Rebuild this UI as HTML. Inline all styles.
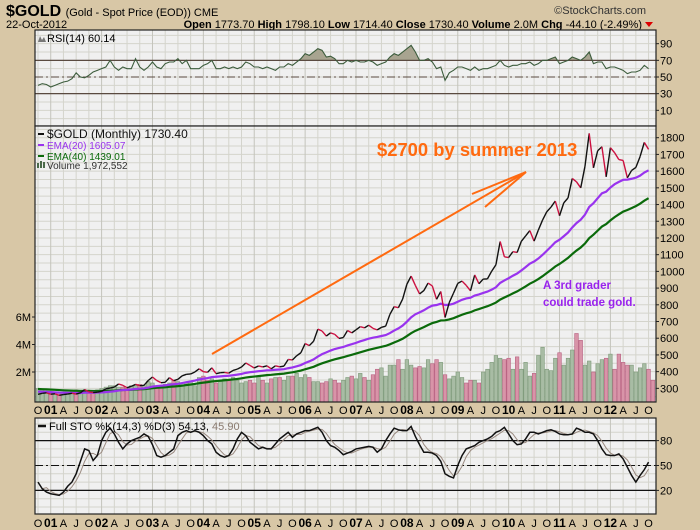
<!DOCTYPE html>
<html><head><meta charset="utf-8"><style>
body{margin:0;background:#d8c7a6;width:700px;height:530px;overflow:hidden;font-family:"Liberation Sans",sans-serif}
svg{position:absolute;left:0;top:0}
</style></head><body>
<svg id="c" width="700" height="530" xmlns="http://www.w3.org/2000/svg">
<text x="6" y="16" font-size="16" font-weight="bold">$GOLD <tspan font-size="11" font-weight="normal">(Gold - Spot Price (EOD)) CME</tspan></text>
<text x="6" y="28" font-size="11">22-Oct-2012</text>
<text x="646" y="14" font-size="11" text-anchor="end" fill="#333">©StockCharts.com</text>
<text x="642" y="28" font-size="11" text-anchor="end"><tspan font-weight="bold">Open</tspan> 1773.70 <tspan font-weight="bold">High</tspan> 1798.10 <tspan font-weight="bold">Low</tspan> 1714.40 <tspan font-weight="bold">Close</tspan> 1730.40 <tspan font-weight="bold">Volume</tspan> 2.0M <tspan font-weight="bold">Chg</tspan> -44.10 (-2.49%)</text>
<polygon points="645,22 653,22 649,27" fill="#d00"/>
<g id="g"></g>
</svg>
<script>
const months=["O","N","D","J","F","M","A","M","J","J","A","S"];
const closes=[264,270,273,265,267,258,263,266,270,266,273,293,279,275,277,282,297,302,308,326,318,304,312,324,316,318,347,368,347,334,336,364,346,354,375,384,386,398,417,400,396,423,388,394,395,391,407,415,428,452,437,422,434,428,435,417,435,429,433,473,470,495,513,568,556,582,654,643,613,632,623,599,604,646,632,650,669,662,678,659,650,665,672,743,789,783,834,923,972,916,865,885,930,913,833,880,724,814,870,928,942,916,884,979,926,954,955,1001,1040,1179,1087,1083,1118,1113,1180,1212,1244,1181,1247,1307,1357,1385,1421,1333,1410,1439,1556,1536,1500,1628,1826,1620,1722,1746,1566,1740,1710,1669,1664,1560,1604,1622,1687,1772,1730];
const volumes=[0.8,0.7,0.6,0.5,0.5,0.5,0.4,0.5,0.6,0.7,0.6,0.6,0.5,0.6,0.7,0.8,0.9,1.0,1.0,0.9,0.9,0.8,1.0,1.0,1.1,1.0,1.3,1.2,0.9,0.9,1.1,1.2,1.4,1.3,1.0,1.2,1.3,1.0,1.6,1.7,1.4,1.5,1.2,1.3,1.5,1.4,1.6,1.4,1.2,1.3,1.4,1.2,1.7,1.4,1.2,1.5,1.6,1.6,1.4,1.7,1.7,1.9,1.6,1.8,1.6,1.3,1.3,1.2,1.3,1.5,1.4,1.2,1.4,1.6,1.7,1.5,1.9,1.6,1.4,1.8,2.2,2.3,1.7,2.5,2.5,2.9,2.2,2.9,2.5,2.3,2.4,2.3,2.9,2.6,2.9,2.7,1.8,1.5,1.7,2.0,1.6,1.2,1.4,1.4,1.2,2.0,2.2,2.7,3.2,3.0,2.9,3.0,2.2,3.1,2.2,2.7,1.7,1.9,3.2,3.8,2.2,2.1,3.0,3.4,2.5,3.0,3.6,4.8,4.3,2.5,2.8,2.0,2.6,2.9,3.0,3.3,2.2,3.3,2.7,2.5,2.5,2.0,2.3,2.6,2.2,1.4];
const rsi=[40,42,41,38,40,42,44,45,48,55,50,49,52,56,58,60,62,70,62,58,62,60,60,72,62,58,62,68,62,60,66,68,68,72,66,70,60,60,60,64,66,70,60,60,62,60,62,60,62,68,66,62,62,60,62,60,58,62,62,66,64,68,72,78,76,80,84,82,74,75,72,66,66,70,68,70,68,68,70,68,64,66,68,74,78,76,80,84,88,80,70,70,72,68,60,62,46,55,58,62,62,60,58,62,58,60,60,62,64,70,64,62,64,64,66,66,68,64,66,70,70,72,74,66,68,70,74,72,70,74,80,66,68,68,60,62,62,60,58,54,56,56,58,64,60];
const stoK=[30,22,18,16,15,14,18,25,30,40,55,70,68,56,62,80,90,95,88,78,70,76,80,82,84,88,85,75,62,60,62,66,70,86,90,92,90,92,90,86,80,76,66,62,60,62,70,82,90,86,78,74,70,72,70,70,76,82,86,90,84,88,90,92,92,94,96,90,80,74,72,68,63,65,67,70,71,72,73,72,66,70,80,88,95,93,92,92,97,85,75,66,66,65,62,55,40,37,35,50,62,70,72,74,78,80,82,85,90,92,96,88,80,75,76,82,90,90,88,90,92,93,91,88,87,87,88,95,93,90,90,88,80,70,63,62,62,64,58,48,38,30,38,45,54];
const priceTicks=[1800,1700,1600,1500,1400,1300,1200,1100,1000,900,800,700,600,500,400,300];
const volTicks=[2,4,6];
const rsiTicks=[90,70,50,30,10];
const stoTicks=[80,50,20];

const NS="http://www.w3.org/2000/svg";
const G=document.getElementById('g');
function el(t,a,p){const e=document.createElementNS(NS,t);for(const k in a)e.setAttribute(k,a[k]);(p||G).appendChild(e);return e;}
const L=35,R=656;
const xs=i=>38+i*4.24;
const yP=v=>137.7+(1800-v)*0.1671;
const yV=v=>399.5-v*13.75;
const yR=v=>77+(50-v)*0.833;
const yS=v=>507-v*0.83;

function panel(name,top,bot,hStep,hFn,hMin,hMax){
  const g=el('g',{});
  
  
  el('rect',{x:L,y:top,width:R-L,height:bot-top,fill:'#f0f0f0'},g);
  for(let v=hMin;v<=hMax;v+=hStep){const y=hFn(v);if(y>top&&y<bot)el('line',{x1:L,x2:R,y1:y,y2:y,stroke:'#d4d4cc','stroke-width':1},g);}
  for(let i=0;i<closes.length;i++){const mi=i%12;if(mi===3||mi===6||mi===9||mi===0){const x=xs(i);el('line',{x1:x,x2:x,y1:top,y2:bot,stroke:mi===3?'#c4c4bc':'#d4d4cc','stroke-width':1},g);}}
  return g;
}
function border(top,bot){el('rect',{x:L,y:top,width:R-L,height:bot-top,fill:'none',stroke:'#222','stroke-width':1.2});}
function xlabels(y,name){
  for(let i=0;i<closes.length;i++){
    const mi=i%12;let t=null,b=false;
    if(mi===3){t=String((2001+Math.floor((i-3)/12))%100).padStart(2,'0');b=true;}
    else if(mi===6)t="A";else if(mi===9)t="J";else if(mi===0)t="O";
    if(t){const e=el('text',{x:xs(i),y:y,'font-size':b?12:11,'font-weight':b?'bold':'normal','text-anchor':'middle'});e.textContent=t;
      
      }
  }
}
function ylab(x,y,t,name,anchor){const e=el('text',{x:x,y:y+4,'font-size':11,'text-anchor':anchor||'start'});e.textContent=t;
  
  
  el('line',{x1:R,x2:R+3,y1:y,y2:y,stroke:'#222'});}

// RSI panel
panel('rsi-panel',30,126,10,yR,0,100);
el('defs',{}).innerHTML='<clipPath id="a70"><rect x="35" y="30" width="621" height="'+(yR(70)-30)+'"/></clipPath>';
let rp=rsi.map((v,i)=>xs(i)+','+yR(v)).join(' ');
const rf=el('polygon',{points:xs(0)+','+yR(70)+' '+rp+' '+xs(rsi.length-1)+','+yR(70),fill:'#a8a490',stroke:'none','clip-path':'url(#a70)'});


[70,30].forEach(v=>el('line',{x1:L,x2:R,y1:yR(v),y2:yR(v),stroke:'#5a4a40','stroke-width':1.3}));
el('line',{x1:L,x2:R,y1:yR(50),y2:yR(50),stroke:'#5a4a40','stroke-width':1,'stroke-dasharray':'8,3,2,3'});
const rl=el('polyline',{points:rp,fill:'none',stroke:'#3c5c3c','stroke-width':1.1});


border(30,126);
rsiTicks.forEach(v=>ylab(660,yR(v),v,'rsi-tick'));
el('path',{d:'M38,42 l2,-6 l2,4 l2,-3 l2,5 z',fill:'#777'});
const rt=el('text',{x:47,y:42,'font-size':11});rt.textContent='RSI(14) 60.14';



// Main panel
panel('price-panel',126,402,50,yP,250,1850);
volumes.forEach((v,i)=>{const up=i===0||closes[i]>=closes[i-1];const y=yV(v);
  const b=el('rect',{x:xs(i)-1.8,y:y,width:3.6,height:402-y,fill:up?'#a8bca4':'#d894a8',stroke:up?'#7e9a7a':'#b86080','stroke-width':0.6});
  
  });
function ema(n,seed){let e=seed;const a=2/(n+1);return closes.map(c=>(e=e+a*(c-e)));}
const e20=ema(20,282),e40=ema(40,298);
const ln40=el('polyline',{points:e40.map((v,i)=>xs(i)+','+yP(v)).join(' '),fill:'none',stroke:'#0a6a0a','stroke-width':2.2});


const ln20=el('polyline',{points:e20.map((v,i)=>xs(i)+','+yP(v)).join(' '),fill:'none',stroke:'#9933ee','stroke-width':2.2});


for(let i=1;i<closes.length;i++){const s=el('line',{x1:xs(i-1),y1:yP(closes[i-1]),x2:xs(i),y2:yP(closes[i]),stroke:closes[i]>=closes[i-1]?'#111':'#cc1040','stroke-width':1.4});
  
  }
border(126,402);
priceTicks.forEach(v=>ylab(660,yP(v),v,'price-tick'));
volTicks.forEach(v=>{const y=yV(v);const t=el('text',{x:31,y:y+4,'font-size':11,'text-anchor':'end'});t.textContent=v+'M';
  
  
  el('line',{x1:32,x2:35,y1:y,y2:y,stroke:'#222'});});
const leg=[['$GOLD (Monthly) 1730.40','#111',12],['EMA(20) 1605.07','#9933ee',10],['EMA(40) 1439.01','#0a6a0a',10]];
leg.forEach((l,k)=>{const y=137+k*11;el('line',{x1:38,x2:44,y1:y-3,y2:y-3,stroke:l[1],'stroke-width':2});
  const t=el('text',{x:47,y:y+1,'font-size':l[2],fill:l[1]});t.textContent=l[0];
  
  });
el('path',{d:'M37,168 v-5 h2 v5 h1 v-7 h2 v7 h1 v-6 h2 v6 z',fill:'#4a6a4a'});
const vt=el('text',{x:47,y:169,'font-size':10,fill:'#333'});vt.textContent='Volume 1,972,552';


// annotations
[[212,354,526,172],[472,194,526,172],[485,207,526,172]].forEach(a=>{const l=el('line',{x1:a[0],y1:a[1],x2:a[2],y2:a[3],stroke:'#ff6a10','stroke-width':2});
  
  });
const at=el('text',{x:377,y:156,'font-size':18.4,'font-weight':'bold',fill:'#ff6a10'});at.textContent='$2700 by summer 2013';


const a1=el('text',{x:543,y:289,'font-size':11.5,'font-weight':'bold',fill:'#9922ee'});a1.textContent='A 3rd grader';


const a2=el('text',{x:543,y:306,'font-size':11.5,'font-weight':'bold',fill:'#9922ee'});a2.textContent='could trade gold.';


xlabels(414,'price-x-label');

// STO panel
panel('sto-panel',418,514,10,yS,0,110);
[80,20].forEach(v=>el('line',{x1:L,x2:R,y1:yS(v),y2:yS(v),stroke:'#111','stroke-width':1.3}));
el('line',{x1:L,x2:R,y1:yS(50),y2:yS(50),stroke:'#111','stroke-width':1,'stroke-dasharray':'8,3,2,3'});
const stoD=stoK.map((v,i)=>i<2?v:(stoK[i]+stoK[i-1]+stoK[i-2])/3);
const dl=el('polyline',{points:stoD.map((v,i)=>xs(i)+','+yS(v)).join(' '),fill:'none',stroke:'#9a8a80','stroke-width':1});


const kl=el('polyline',{points:stoK.map((v,i)=>xs(i)+','+yS(v)).join(' '),fill:'none',stroke:'#111','stroke-width':1.5});


border(418,514);
stoTicks.forEach(v=>ylab(660,yS(v),v,'sto-tick'));
el('line',{x1:38,x2:46,y1:426,y2:426,stroke:'#111','stroke-width':2.5});
const st=el('text',{x:49,y:430,'font-size':11});st.innerHTML='Full STO %K(14,3) %D(3) 54.13, <tspan fill="#8a7a70">45.90</tspan>';


xlabels(527,'sto-x-label');
</script>
</body></html>
